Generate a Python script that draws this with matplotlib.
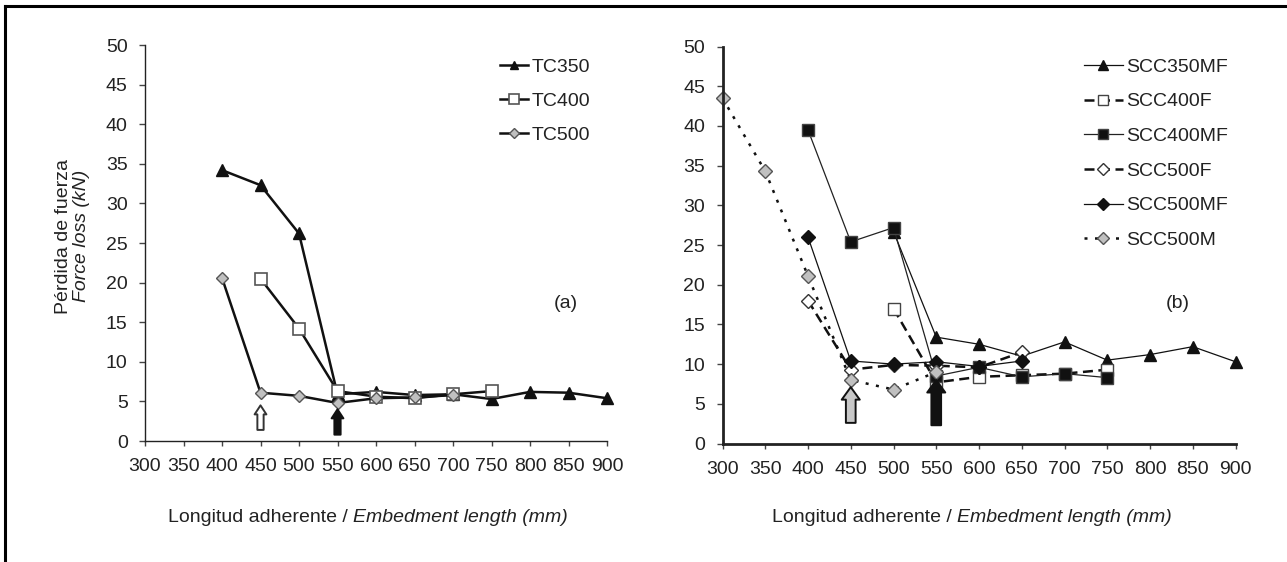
import matplotlib
matplotlib.use('Agg')
import matplotlib.pyplot as plt
from matplotlib.lines import Line2D

plt.rcParams['font.family'] = ['Liberation Sans', 'DejaVu Sans']
plt.rcParams['font.size'] = 14

W, H = 1287, 562

# --- datos (a) ---
x_tc350 = [400, 450, 500, 550, 600, 650, 700, 750, 800, 850, 900]
y_tc350 = [34.2, 32.3, 26.2, 5.9, 6.2, 5.8, 5.9, 5.3, 6.2, 6.1, 5.4]
x_tc400 = [450, 500, 550, 600, 650, 700, 750]
y_tc400 = [20.5, 14.2, 6.3, 5.6, 5.4, 5.9, 6.3]
x_tc500 = [400, 450, 500, 550, 600, 650, 700]
y_tc500 = [20.6, 6.1, 5.7, 4.8, 5.4, 5.5, 5.8]

# --- datos (b) ---
x_350mf = [500, 550, 600, 650, 700, 750, 800, 850, 900]
y_350mf = [26.7, 13.4, 12.5, 11.0, 12.8, 10.5, 11.2, 12.2, 10.3]
x_400f = [500, 550, 600, 650, 700, 750]
y_400f = [17.0, 7.7, 8.4, 8.6, 8.8, 9.3]
x_400mf = [400, 450, 500, 550, 600, 650, 700, 750]
y_400mf = [39.5, 25.4, 27.2, 8.5, 9.6, 8.4, 8.8, 8.3]
x_500f = [400, 450, 500, 550, 600, 650]
y_500f = [18.0, 9.3, 9.9, 9.8, 9.6, 11.5]
x_500mf = [400, 450, 500, 550, 600, 650]
y_500mf = [26.0, 10.4, 10.0, 10.3, 9.7, 10.4]
x_500m = [300, 350, 400, 450, 500, 550]
y_500m = [43.5, 34.3, 21.1, 8.0, 6.8, 9.0]

xticks = list(range(300, 901, 50))
yticks = list(range(0, 51, 5))

# flechas (x, y_cola, y_punta)
flechas_a = [(450, 1.4, 4.5, 'white', '#333333'), (550, 0.8, 4.0, '#111111', '#111111')]
flechas_b = [(450, 2.6, 7.1, '#c8c8c8', '#111111'), (550, 2.3, 8.0, '#111111', '#111111')]

fig = plt.figure(figsize=(W / 100, H / 100), dpi=100)

def fpos(x0, x1, y_top, y_bot):
    return [x0 / W, 1 - y_bot / H, (x1 - x0) / W, (y_bot - y_top) / H]

ax1 = fig.add_axes(fpos(145, 607, 45, 441))
ax2 = fig.add_axes(fpos(722.5, 1235.5, 46.6, 443.5))

txtc = '#222222'
for ax, lw in [(ax1, 1.0), (ax2, 2.0)]:
    ax.set_xlim(300, 900)
    ax.set_ylim(0, 50)
    ax.set_xticks(xticks)
    ax.set_yticks(yticks)
    for s in ['top', 'right']:
        ax.spines[s].set_visible(False)
    for s in ['left', 'bottom']:
        ax.spines[s].set_linewidth(lw)
        ax.spines[s].set_color('#222222')
    ax.tick_params(axis='x', length=3.5, width=1, pad=9, colors='#444444', labelcolor=txtc, labelsize=14)
    ax.tick_params(axis='y', length=4.5, width=1, pad=8, colors='#444444', labelcolor=txtc, labelsize=14)
    ax.patch.set_alpha(0)

# (a)
ax1.plot(x_tc350, y_tc350, '-', color='#111111', lw=1.8, marker='^', ms=8,
         mfc='#111111', mec='#111111', label='TC350', clip_on=False)
ax1.plot(x_tc400, y_tc400, '-', color='#111111', lw=1.8, marker='s', ms=8.5,
         mfc='white', mec='#555555', mew=1.2, label='TC400', clip_on=False)
ax1.plot(x_tc500, y_tc500, '-', color='#111111', lw=1.8, marker='D', ms=6.5,
         mfc='#c0c0c0', mec='#555555', mew=1.0, label='TC500', clip_on=False)

# (b)
ax2.plot(x_350mf, y_350mf, '-', color='#111111', lw=0.9, marker='^', ms=8.5,
         mfc='#111111', mec='#111111', label='SCC350MF', clip_on=False)
ax2.plot(x_400f, y_400f, color='#111111', lw=1.8, dashes=(4, 2.2), marker='s', ms=8,
         mfc='white', mec='#444444', mew=1.0, label='SCC400F', clip_on=False)
ax2.plot(x_400mf, y_400mf, '-', color='#222222', lw=0.9, marker='s', ms=8,
         mfc='#111111', mec='#444444', mew=1.0, label='SCC400MF', clip_on=False)
ax2.plot(x_500f, y_500f, color='#111111', lw=1.8, dashes=(4, 2.2), marker='D', ms=7,
         mfc='white', mec='#333333', mew=1.0, label='SCC500F', clip_on=False)
ax2.plot(x_500mf, y_500mf, '-', color='#111111', lw=0.9, marker='D', ms=7,
         mfc='#111111', mec='#111111', label='SCC500MF', clip_on=False)
ax2.plot(x_500m, y_500m, color='#111111', lw=1.8, dashes=(1.2, 3), marker='D', ms=7,
         mfc='#c0c0c0', mec='#555555', mew=1.0, label='SCC500M', clip_on=False)

for ax, fl, sc in [(ax1, flechas_a, (0.85, 0.45, 0.65)), (ax2, flechas_b, (1.3, 0.7, 0.9))]:
    for x, y0, y1, fc, ec in fl:
        ax.annotate('', xy=(x, y1), xytext=(x, y0),
                    arrowprops=dict(arrowstyle='simple,head_length=%.2f,head_width=%.2f,tail_width=%.2f'
                                    % (sc[2], sc[0], sc[1]),
                                    fc=fc, ec=ec, lw=1.4, shrinkA=0, shrinkB=0,
                                    mutation_scale=10), zorder=6)

leg1 = ax1.legend(loc='upper left', bbox_to_anchor=(500 / W, 1 - 58 / H),
                  bbox_transform=fig.transFigure, frameon=False, borderpad=0,
                  borderaxespad=0, handlelength=1.45, handletextpad=0.2,
                  labelspacing=0.84, fontsize=14, markerscale=0.8)
leg2 = ax2.legend(loc='upper left', bbox_to_anchor=(1084 / W, 1 - 58 / H),
                  bbox_transform=fig.transFigure, frameon=False, borderpad=0,
                  borderaxespad=0, handlelength=2.0, handletextpad=0.15,
                  labelspacing=0.88, fontsize=14, markerscale=0.9)
for leg in (leg1, leg2):
    for t in leg.get_texts():
        t.set_color(txtc)

fig.text(566 / W, 1 - 303 / H, '(a)', ha='center', va='center', color=txtc, fontsize=14)
fig.text(1178 / W, 1 - 303 / H, '(b)', ha='center', va='center', color=txtc, fontsize=14)

# eje y (a)
fig.text(64 / W, 1 - 236 / H, 'Pérdida de fuerza', rotation=90, ha='center', va='center',
         color=txtc, fontsize=14)
fig.text(81 / W, 1 - 236 / H, 'Force loss (kN)', rotation=90, ha='center', va='center',
         color=txtc, fontsize=14, style='italic')

# ejes x
for x0 in (168, 772):
    t1 = fig.text(x0 / W, 1 - 518 / H, 'Longitud adherente /', ha='left', va='center',
                  color=txtc, fontsize=14)
    ax1.annotate('Embedment length (mm)', xy=(1, 0.5), xycoords=t1, xytext=(4, 0),
                 textcoords='offset points', ha='left', va='center', color=txtc,
                 fontsize=14, style='italic', annotation_clip=False)

# marco
fig.add_artist(Line2D([5 / W, 1], [1 - 6 / H, 1 - 6 / H], color='black', lw=2.2,
                      transform=fig.transFigure))
fig.add_artist(Line2D([5 / W, 5 / W], [0, 1 - 6 / H], color='black', lw=2.2,
                      transform=fig.transFigure))

fig.savefig('out.png', dpi=100)
